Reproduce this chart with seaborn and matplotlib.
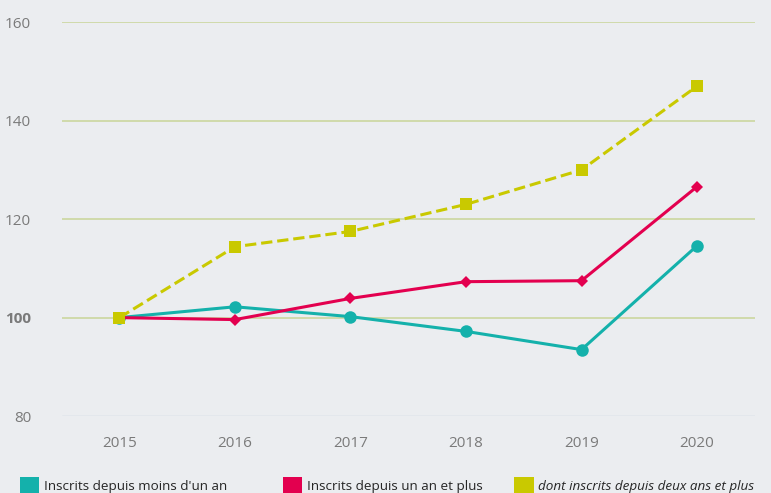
import pandas as pd
import matplotlib.pyplot as plt
import seaborn as sns
from matplotlib.patches import Patch

# data (index, base 100 in 2015)
years = [2015, 2016, 2017, 2018, 2019, 2020]
moins_un_an = [100, 102.2, 100.2, 97.2, 93.5, 114.6]
un_an_et_plus = [100, 99.6, 103.9, 107.3, 107.5, 126.6]
deux_ans_et_plus = [100, 114.4, 117.5, 123.0, 130.0, 147.0]
labels = ["Inscrits depuis moins d'un an",
          "Inscrits depuis un an et plus",
          "dont inscrits depuis deux ans et plus"]
colors = ["#14b1ab", "#e3004f", "#c9c900"]

df = pd.DataFrame({
    "year": years * 3,
    "value": moins_un_an + un_an_et_plus + deux_ans_et_plus,
    "serie": [labels[0]] * 6 + [labels[1]] * 6 + [labels[2]] * 6,
})

sns.set_style("white")
plt.rcParams["font.family"] = ["Open Sans", "DejaVu Sans"]

bg = "#ebedf0"
fig = plt.figure(figsize=(7.71, 4.93), dpi=100, facecolor=bg)
ax = fig.add_axes([0.080, 0.156, 0.899, 0.799], facecolor=bg)

# grid lines
for v in [100, 120, 140, 160]:
    ax.axhline(v, color="#cbd79f", lw=1.2, zorder=0)
ax.axhline(80, color="#c4d0e0", lw=1.0, zorder=0)

markers = {labels[0]: "o", labels[1]: "D", labels[2]: "s"}
sizes = {labels[0]: 9, labels[1]: 6, labels[2]: 9}
zorders = {labels[0]: 3, labels[1]: 4, labels[2]: 5}
for lab, col in zip(labels, colors):
    sub = df[df["serie"] == lab]
    sns.lineplot(data=sub, x="year", y="value", ax=ax, color=col, lw=2.2,
                 marker=markers[lab], markersize=sizes[lab], markeredgewidth=0,
                 linestyle="--" if lab == labels[2] else "-",
                 dashes=False, zorder=zorders[lab])

ax.set_xlim(2014.5, 2020.5)
ax.set_ylim(80, 160)
ax.set_xticks(years)
ax.set_yticks([80, 100, 120, 140, 160])
ax.set_xlabel("")
ax.set_ylabel("")
ax.tick_params(axis="y", length=0, labelsize=11, labelcolor="#7a7a7a", pad=22)
ax.tick_params(axis="x", length=0, labelsize=11, labelcolor="#7a7a7a", pad=14)
for t in ax.get_yticklabels():
    if t.get_text() == "100":
        t.set_fontweight("bold")
for s in ax.spines.values():
    s.set_visible(False)
if ax.get_legend():
    ax.get_legend().remove()

# legend entries placed one by one (uneven gaps in the original)
legend_x = [0.0256, 0.367, 0.667]
for i, (lab, col) in enumerate(zip(labels, colors)):
    leg = fig.legend([Patch(facecolor=col, edgecolor="none")], [lab],
                     loc="lower left", bbox_to_anchor=(legend_x[i], 0.0),
                     frameon=False, fontsize=9.7, handlelength=1.44,
                     handleheight=1.44, handletextpad=0.34, borderpad=0,
                     borderaxespad=0)
    if i == 2:
        leg.get_texts()[0].set_fontstyle("italic")

fig.savefig("out.png", dpi=100, facecolor=bg)
